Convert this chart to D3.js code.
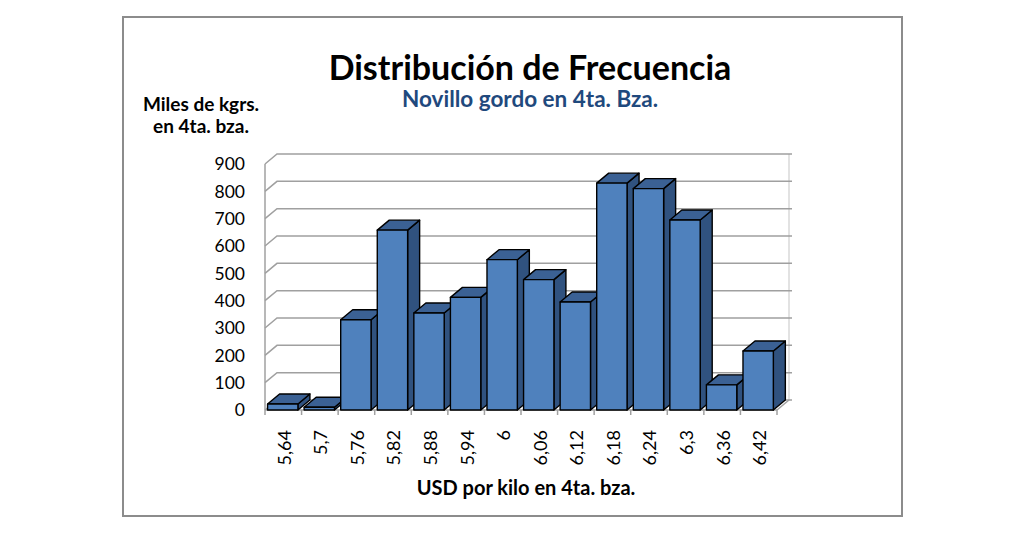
<!DOCTYPE html>
<html>
<head>
<meta charset="utf-8">
<script src="https://cdn.jsdelivr.net/npm/d3@7"></script>
<style>
  body { margin: 0; background: #fff; }
  text { font-family: Lato, "Open Sans", sans-serif; }
</style>
</head>
<body>
<div class="canvas"></div>
<script>
  // data
  const categories = ['5,64', '5,7', '5,76', '5,82', '5,88', '5,94', '6', '6,06', '6,12', '6,18', '6,24', '6,3', '6,36', '6,42'];
  const values = [22, 10, 330, 658, 355, 412, 550, 477, 395, 830, 810, 695, 92, 216];
  const yTicks = [0, 100, 200, 300, 400, 500, 600, 700, 800, 900];

  const width = 1024, height = 535;
  const front = { left: 265, right: 777, top: 164, bottom: 410 };
  const depth = { dx: 12, dy: -10 };

  const svg = d3.select('.canvas')
    .append('svg')
    .attr('width', width)
    .attr('height', height);

  // outer frame
  svg.append('rect')
    .attr('x', 123).attr('y', 17)
    .attr('width', 779).attr('height', 499)
    .attr('fill', '#fff')
    .attr('stroke', '#8c8c8c')
    .attr('stroke-width', 2);

  // scales
  const x = d3.scaleBand().domain(categories).range([front.left, front.right]);
  const y = d3.scaleLinear().domain([0, 900]).range([front.bottom, front.top]);

  const grid = svg.append('g')
    .attr('fill', 'none')
    .attr('stroke', '#a0a0a0')
    .attr('stroke-width', 1.5);

  // back wall gridlines + left wall diagonals
  yTicks.forEach(v => {
    grid.append('path')
      .attr('d', `M${front.left},${y(v)} l${depth.dx},${depth.dy} H${front.right + depth.dx} h3`);
  });
  // left wall front edge
  grid.append('line')
    .attr('x1', front.left).attr('x2', front.left)
    .attr('y1', y(900)).attr('y2', y(0));
  // floor right edge
  grid.append('path')
    .attr('d', `M${front.right},${y(0)} l${depth.dx},${depth.dy}`);
  grid.append('line')
    .attr('x1', front.right + depth.dx).attr('x2', front.right + depth.dx)
    .attr('y1', y(900) + depth.dy).attr('y2', y(0) + depth.dy)
    .attr('stroke-width', 0.6);

  // x ticks
  const xTickPos = categories.map(c => x(c)).concat([front.right]);
  grid.selectAll('.xt')
    .data(xTickPos)
    .enter().append('line')
    .attr('x1', d => d).attr('x2', d => d)
    .attr('y1', y(0)).attr('y2', y(0) + 5);
  grid.append('line')
    .attr('x1', front.left).attr('x2', front.right)
    .attr('y1', y(0)).attr('y2', y(0));

  // 3d bars
  const bw = x.bandwidth() * 0.83;
  const off = x.bandwidth() * 0.07;
  const bars = svg.selectAll('.bar')
    .data(categories.map((c, i) => ({ c, v: values[i] })))
    .enter().append('g')
    .attr('class', 'bar')
    .attr('stroke', '#000')
    .attr('stroke-width', 1.4)
    .attr('stroke-linejoin', 'round');

  bars.append('path')   // side
    .attr('fill', '#30527f')
    .attr('d', d => {
      const x1 = x(d.c) + off + bw, yt = y(d.v), yb = y(0);
      return `M${x1},${yt} l${depth.dx},${depth.dy} V${yb + depth.dy} l${-depth.dx},${-depth.dy} Z`;
    });
  bars.append('path')   // top
    .attr('fill', '#3b6194')
    .attr('d', d => {
      const x0 = x(d.c) + off, yt = y(d.v);
      return `M${x0},${yt} l${depth.dx},${depth.dy} h${bw} l${-depth.dx},${-depth.dy} Z`;
    });
  bars.append('rect')   // front
    .attr('fill', '#4f81bd')
    .attr('x', d => x(d.c) + off)
    .attr('y', d => y(d.v))
    .attr('width', bw)
    .attr('height', d => y(0) - y(d.v));

  // y tick labels
  svg.selectAll('.ylab')
    .data(yTicks)
    .enter().append('text')
    .attr('x', 245)
    .attr('y', d => y(d))
    .attr('dy', '0.36em')
    .attr('text-anchor', 'end')
    .attr('font-size', 17.5)
    .text(d => d);

  // x tick labels
  svg.selectAll('.xlab')
    .data(categories)
    .enter().append('text')
    .attr('transform', d => `translate(${x(d) + x.bandwidth() / 2 + 1},430) rotate(-90)`)
    .attr('dy', '0.36em')
    .attr('text-anchor', 'end')
    .attr('font-size', 18)
    .text(d => d);

  // titles
  svg.append('text')
    .attr('x', 530).attr('y', 80)
    .attr('text-anchor', 'middle')
    .attr('font-size', 34).attr('font-weight', 'bold')
    .text('Distribución de Frecuencia');
  svg.append('text')
    .attr('x', 530).attr('y', 107)
    .attr('text-anchor', 'middle')
    .attr('font-size', 22.5).attr('font-weight', 'bold')
    .attr('fill', '#1f497d')
    .text('Novillo gordo en 4ta. Bza.');
  svg.append('text')
    .attr('x', 201).attr('y', 111)
    .attr('text-anchor', 'middle')
    .attr('font-size', 19).attr('font-weight', 'bold')
    .text('Miles de kgrs.');
  svg.append('text')
    .attr('x', 201).attr('y', 133)
    .attr('text-anchor', 'middle')
    .attr('font-size', 19).attr('font-weight', 'bold')
    .text('en 4ta. bza.');
  svg.append('text')
    .attr('x', 526).attr('y', 495)
    .attr('text-anchor', 'middle')
    .attr('font-size', 20).attr('font-weight', 'bold')
    .text('USD por kilo en 4ta. bza.');
</script>
</body>
</html>
